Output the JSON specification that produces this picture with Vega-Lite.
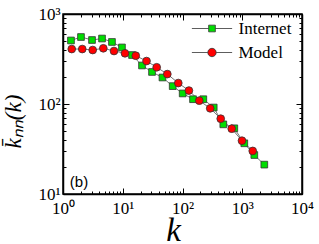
{
  "$schema": "https://vega.github.io/schema/vega-lite/v6.json",
  "width": 239,
  "height": 180,
  "padding": {"left": 63, "top": 14, "right": 17, "bottom": 50},
  "autosize": {"type": "none"},
  "background": "white",
  "config": {
    "view": {"stroke": "black", "strokeWidth": 1.5},
    "axis": {"grid": false, "domainColor": "black", "tickColor": "black", "labelFont": "Liberation Serif", "labelColor": "black", "titleFont": "Liberation Serif", "titleColor": "black"}
  },
  "resolve": {"axis": {"x": "independent", "y": "independent"}},
  "datasets": {
    "pts": [
      {"series": "Internet", "k": 1.36, "knn": 508},
      {"series": "Internet", "k": 2.0, "knn": 555},
      {"series": "Internet", "k": 3.06, "knn": 514},
      {"series": "Internet", "k": 4.5, "knn": 534},
      {"series": "Internet", "k": 6.6, "knn": 489},
      {"series": "Internet", "k": 9.7, "knn": 425},
      {"series": "Internet", "k": 14.3, "knn": 350},
      {"series": "Internet", "k": 21, "knn": 268},
      {"series": "Internet", "k": 30.9, "knn": 227},
      {"series": "Internet", "k": 46.2, "knn": 197},
      {"series": "Internet", "k": 68.5, "knn": 158},
      {"series": "Internet", "k": 100.7, "knn": 131},
      {"series": "Internet", "k": 150, "knn": 113},
      {"series": "Internet", "k": 223, "knn": 113},
      {"series": "Internet", "k": 333, "knn": 91.4},
      {"series": "Internet", "k": 482, "knn": 59.4},
      {"series": "Internet", "k": 736, "knn": 53.7},
      {"series": "Internet", "k": 1082, "knn": 36.6},
      {"series": "Internet", "k": 1592, "knn": 27.1},
      {"series": "Internet", "k": 2340, "knn": 21.2},
      {"series": "Model", "k": 1.40, "knn": 408},
      {"series": "Model", "k": 2.10, "knn": 408},
      {"series": "Model", "k": 3.14, "knn": 398},
      {"series": "Model", "k": 4.73, "knn": 416},
      {"series": "Model", "k": 7.14, "knn": 388},
      {"series": "Model", "k": 10.9, "knn": 366},
      {"series": "Model", "k": 16.5, "knn": 344},
      {"series": "Model", "k": 25, "knn": 300},
      {"series": "Model", "k": 37, "knn": 256},
      {"series": "Model", "k": 55.7, "knn": 215},
      {"series": "Model", "k": 85, "knn": 171},
      {"series": "Model", "k": 128, "knn": 141},
      {"series": "Model", "k": 191, "knn": 109},
      {"series": "Model", "k": 291, "knn": 89.5},
      {"series": "Model", "k": 436, "knn": 68.7},
      {"series": "Model", "k": 666, "knn": 53.2},
      {"series": "Model", "k": 990, "knn": 39.1},
      {"series": "Model", "k": 1497, "knn": 30.1}
    ],
    "lbl": [{"k": 1.3, "knn": 13.6, "t": "(b)"}]
  },
  "layer": [
    {
      "data": {"name": "pts"},
      "mark": {"type": "line", "color": "#777777", "strokeWidth": 1},
      "encoding": {
        "x": {"field": "k", "type": "quantitative", "scale": {"type": "log", "domain": [1, 10000]},
          "axis": {"orient": "bottom", "title": "k", "titleFontSize": 33, "titleFontStyle": "italic", "titleFontWeight": "normal", "titleX": 110, "titleY": 46, "titleAlign": "center", "titleBaseline": "alphabetic",
            "values": [1,2,3,4,5,6,7,8,9,10,20,30,40,50,60,70,80,90,100,200,300,400,500,600,700,800,900,1000,2000,3000,4000,5000,6000,7000,8000,9000,10000],
            "labelExpr": "datum.value==1?'10⁰':datum.value==10?'10¹':datum.value==100?'10²':datum.value==1000?'10³':datum.value==10000?'10⁴':''",
            "labelFontSize": 17, "labelPadding": 12, "labelFlush": false, "labelOverlap": false,
            "tickSize": {"condition": {"test": "datum.value==1||datum.value==10||datum.value==100||datum.value==1000||datum.value==10000", "value": -6}, "value": -3},
            "domainWidth": 1.5, "tickWidth": 1}},
        "y": {"field": "knn", "type": "quantitative", "scale": {"type": "log", "domain": [10, 1000]},
          "axis": {"orient": "left", "title": "k̄ₙₙ(k)", "titleFontSize": 23, "titleFontStyle": "italic", "titleFontWeight": "normal", "titleX": -43, "titleY": 107, "titleAlign": "center", "titleBaseline": "alphabetic", "titleAngle": 270,
            "values": [10,20,30,40,50,60,70,80,90,100,200,300,400,500,600,700,800,900,1000],
            "labelExpr": "datum.value==10?'10¹':datum.value==100?'10²':datum.value==1000?'10³':''",
            "labelFontSize": 17, "labelPadding": 9, "labelFlush": false, "labelOverlap": false,
            "tickSize": {"condition": {"test": "datum.value==10||datum.value==100||datum.value==1000", "value": -6}, "value": -3},
            "domainWidth": 1.5, "tickWidth": 1}},
        "detail": {"field": "series"}
      }
    },
    {
      "data": {"name": "lbl"},
      "mark": {"type": "point", "opacity": 0},
      "encoding": {
        "x": {"field": "k", "type": "quantitative",
          "axis": {"orient": "top", "title": null, "labels": false,
            "values": [1,2,3,4,5,6,7,8,9,10,20,30,40,50,60,70,80,90,100,200,300,400,500,600,700,800,900,1000,2000,3000,4000,5000,6000,7000,8000,9000,10000],
            "tickSize": {"condition": {"test": "datum.value==1||datum.value==10||datum.value==100||datum.value==1000||datum.value==10000", "value": -6}, "value": -3},
            "domainWidth": 1.5, "tickWidth": 1}},
        "y": {"field": "knn", "type": "quantitative",
          "axis": {"orient": "right", "title": null, "labels": false,
            "values": [10,20,30,40,50,60,70,80,90,100,200,300,400,500,600,700,800,900,1000],
            "tickSize": {"condition": {"test": "datum.value==10||datum.value==100||datum.value==1000", "value": -6}, "value": -3},
            "domainWidth": 1.5, "tickWidth": 1}}
      }
    },
    {
      "data": {"name": "pts"},
      "transform": [{"filter": "false"}],
      "mark": {"type": "point", "filled": true, "stroke": "#333333", "strokeWidth": 0.8},
      "encoding": {
        "x": {"field": "k", "type": "quantitative", "axis": null},
        "y": {"field": "knn", "type": "quantitative", "axis": null},
        "color": {"field": "series", "type": "nominal", "scale": {"domain": ["Internet", "Model"], "range": ["#00dd00", "#ff0000"]},
          "legend": {"title": null, "orient": "none", "legendX": 140.5, "legendY": 6, "padding": 0, "labelFont": "Liberation Serif", "labelFontSize": 17, "labelColor": "black", "symbolSize": 45, "rowPadding": 6, "symbolStrokeColor": "#333333", "symbolStrokeWidth": 0.8, "symbolOpacity": 1, "labelOffset": 18}},
        "shape": {"field": "series", "type": "nominal", "scale": {"domain": ["Internet", "Model"], "range": ["M-6,0H-1M1,0H6M-1,-1H1V1H-1Z", "M-6,0H-1.25M1.25,0H6M-1.25,0A1.25,1.25 0 1,0 1.25,0A1.25,1.25 0 1,0 -1.25,0Z"]}}
      }
    },
    {
      "data": {"name": "pts"},
      "transform": [{"filter": "datum.series=='Internet'"}],
      "mark": {"type": "point", "shape": "square", "size": 45, "filled": true, "stroke": "#333333", "strokeWidth": 0.8, "opacity": 1},
      "encoding": {
        "x": {"field": "k", "type": "quantitative", "axis": null},
        "y": {"field": "knn", "type": "quantitative", "axis": null},
        "color": {"field": "series", "type": "nominal"}
      }
    },
    {
      "data": {"name": "pts"},
      "transform": [{"filter": "datum.series=='Model'"}],
      "mark": {"type": "point", "shape": "circle", "size": 60, "filled": true, "stroke": "#333333", "strokeWidth": 0.8, "opacity": 1},
      "encoding": {
        "x": {"field": "k", "type": "quantitative", "axis": null},
        "y": {"field": "knn", "type": "quantitative", "axis": null},
        "color": {"field": "series", "type": "nominal"}
      }
    },
    {
      "data": {"name": "lbl"},
      "mark": {"type": "text", "font": "Liberation Sans", "fontSize": 15, "align": "left", "baseline": "middle", "color": "black"},
      "encoding": {
        "x": {"field": "k", "type": "quantitative", "axis": null},
        "y": {"field": "knn", "type": "quantitative", "axis": null},
        "text": {"field": "t"}
      }
    }
  ]
}
